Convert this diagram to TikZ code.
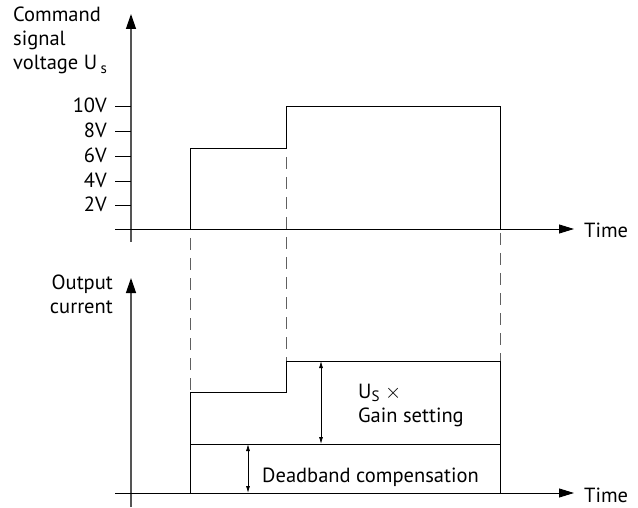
\documentclass[tikz,border=0pt]{standalone}
\usepackage{fontspec}
\setmainfont{PT Sans}
\usetikzlibrary{arrows.meta}
\definecolor{axisgray}{HTML}{555555}
\definecolor{dashgray}{HTML}{606060}
\begin{document}
\begin{tikzpicture}[x=1pt,y=-1pt,
  lbl/.style={font=\fontsize{20.5}{24}\selectfont, inner sep=0pt},
  vaxis/.style={draw=axisgray, line width=1.3pt, -{Triangle[length=15pt,width=10pt,color=black]}},
  haxis/.style={draw=black, line width=0.9pt, -{Triangle[length=15pt,width=9pt]}},
  sig/.style={draw=black, line width=0.9pt},
  tick/.style={draw=black, line width=0.9pt},
  dashline/.style={draw=dashgray, line width=0.9pt, dash pattern=on 12pt off 8pt},
  dim/.style={draw=black, line width=0.8pt, {Latex[length=7pt,width=4pt]}-{Latex[length=7pt,width=4pt]}}
]
\useasboundingbox (0,0) rectangle (638,508);
% ---------- top graph ----------
\coordinate (ty0) at (131,242);
\coordinate (ty1) at (131,14);
\coordinate (tx0) at (115,229);
\coordinate (tx1) at (574,229);
\draw[vaxis] (ty0) -- (ty1);
\draw[haxis] (tx0) -- (tx1);
\node[lbl, anchor=base west] (ttime) at (584,238) {Time};
\node[lbl, anchor=base west] (cmd1) at (13,22) {Command};
\node[lbl, anchor=base west] (cmd2) at (13,46) {signal};
\node[lbl, anchor=base west] (cmd3) at (13,70) {voltage U\,\raisebox{-0.35ex}{\fontsize{15}{15}\selectfont s}};
\foreach \y/\t [count=\i] in {106/10V,131/8V,156/6V,181/4V,205/2V}{
  \coordinate (tk\i a) at (115,\y);
  \coordinate (tk\i b) at (131,\y);
  \draw[tick] (tk\i a) -- (tk\i b);
  \node[lbl, anchor=base east] (tl\i) at (107,\y+7) {\t};
}
\coordinate (s0) at (190,229);
\coordinate (s1) at (190,148);
\coordinate (s2) at (286,148);
\coordinate (s3) at (286,106);
\coordinate (s4) at (500,106);
\coordinate (s5) at (500,229);
\draw[sig] (s0) -- (s1) -- (s2) -- (s3) -- (s4) -- (s5);
% ---------- bottom graph ----------
\coordinate (by0) at (131,507);
\coordinate (by1) at (131,278);
\coordinate (bx0) at (115,493);
\coordinate (bx1) at (574,493);
\draw[vaxis] (by0) -- (by1);
\draw[haxis] (bx0) -- (bx1);
\node[lbl, anchor=base west] (btime) at (584,502) {Time};
\node[lbl, anchor=base east] (out1) at (113,289) {Output};
\node[lbl, anchor=base east] (out2) at (113,313) {current};
\coordinate (b0) at (190,493);
\coordinate (b1) at (190,392);
\coordinate (b2) at (286,392);
\coordinate (b3) at (286,361);
\coordinate (b4) at (500,361);
\coordinate (b5) at (500,493);
\draw[sig] (b0) -- (b1) -- (b2) -- (b3) -- (b4) -- (b5);
\coordinate (d0) at (190,444);
\coordinate (d1) at (500,444);
\draw[sig] (d0) -- (d1);
% dimension arrows
\coordinate (a1t) at (248,444);
\coordinate (a1b) at (248,493);
\draw[dim] (a1t) -- (a1b);
\coordinate (a2t) at (321,361);
\coordinate (a2b) at (321,444);
\draw[dim] (a2t) -- (a2b);
\node[lbl, anchor=base west] (gain1) at (358,398) {U\raisebox{-0.3ex}{\fontsize{15}{15}\selectfont S} $\times$};
\node[lbl, anchor=base west] (gain2) at (358,422) {Gain setting};
\node[lbl, anchor=base west] (dead) at (262,482) {Deadband compensation};
% ---------- dashed connectors ----------
\coordinate (c1a) at (190,238);
\coordinate (c2a) at (286,157);
\coordinate (c3a) at (500,233);
\draw[dashline] (c1a) -- (b1);
\draw[dashline] (c2a) -- (b3);
\draw[dashline] (c3a) -- (b4);
\end{tikzpicture}
\end{document}
